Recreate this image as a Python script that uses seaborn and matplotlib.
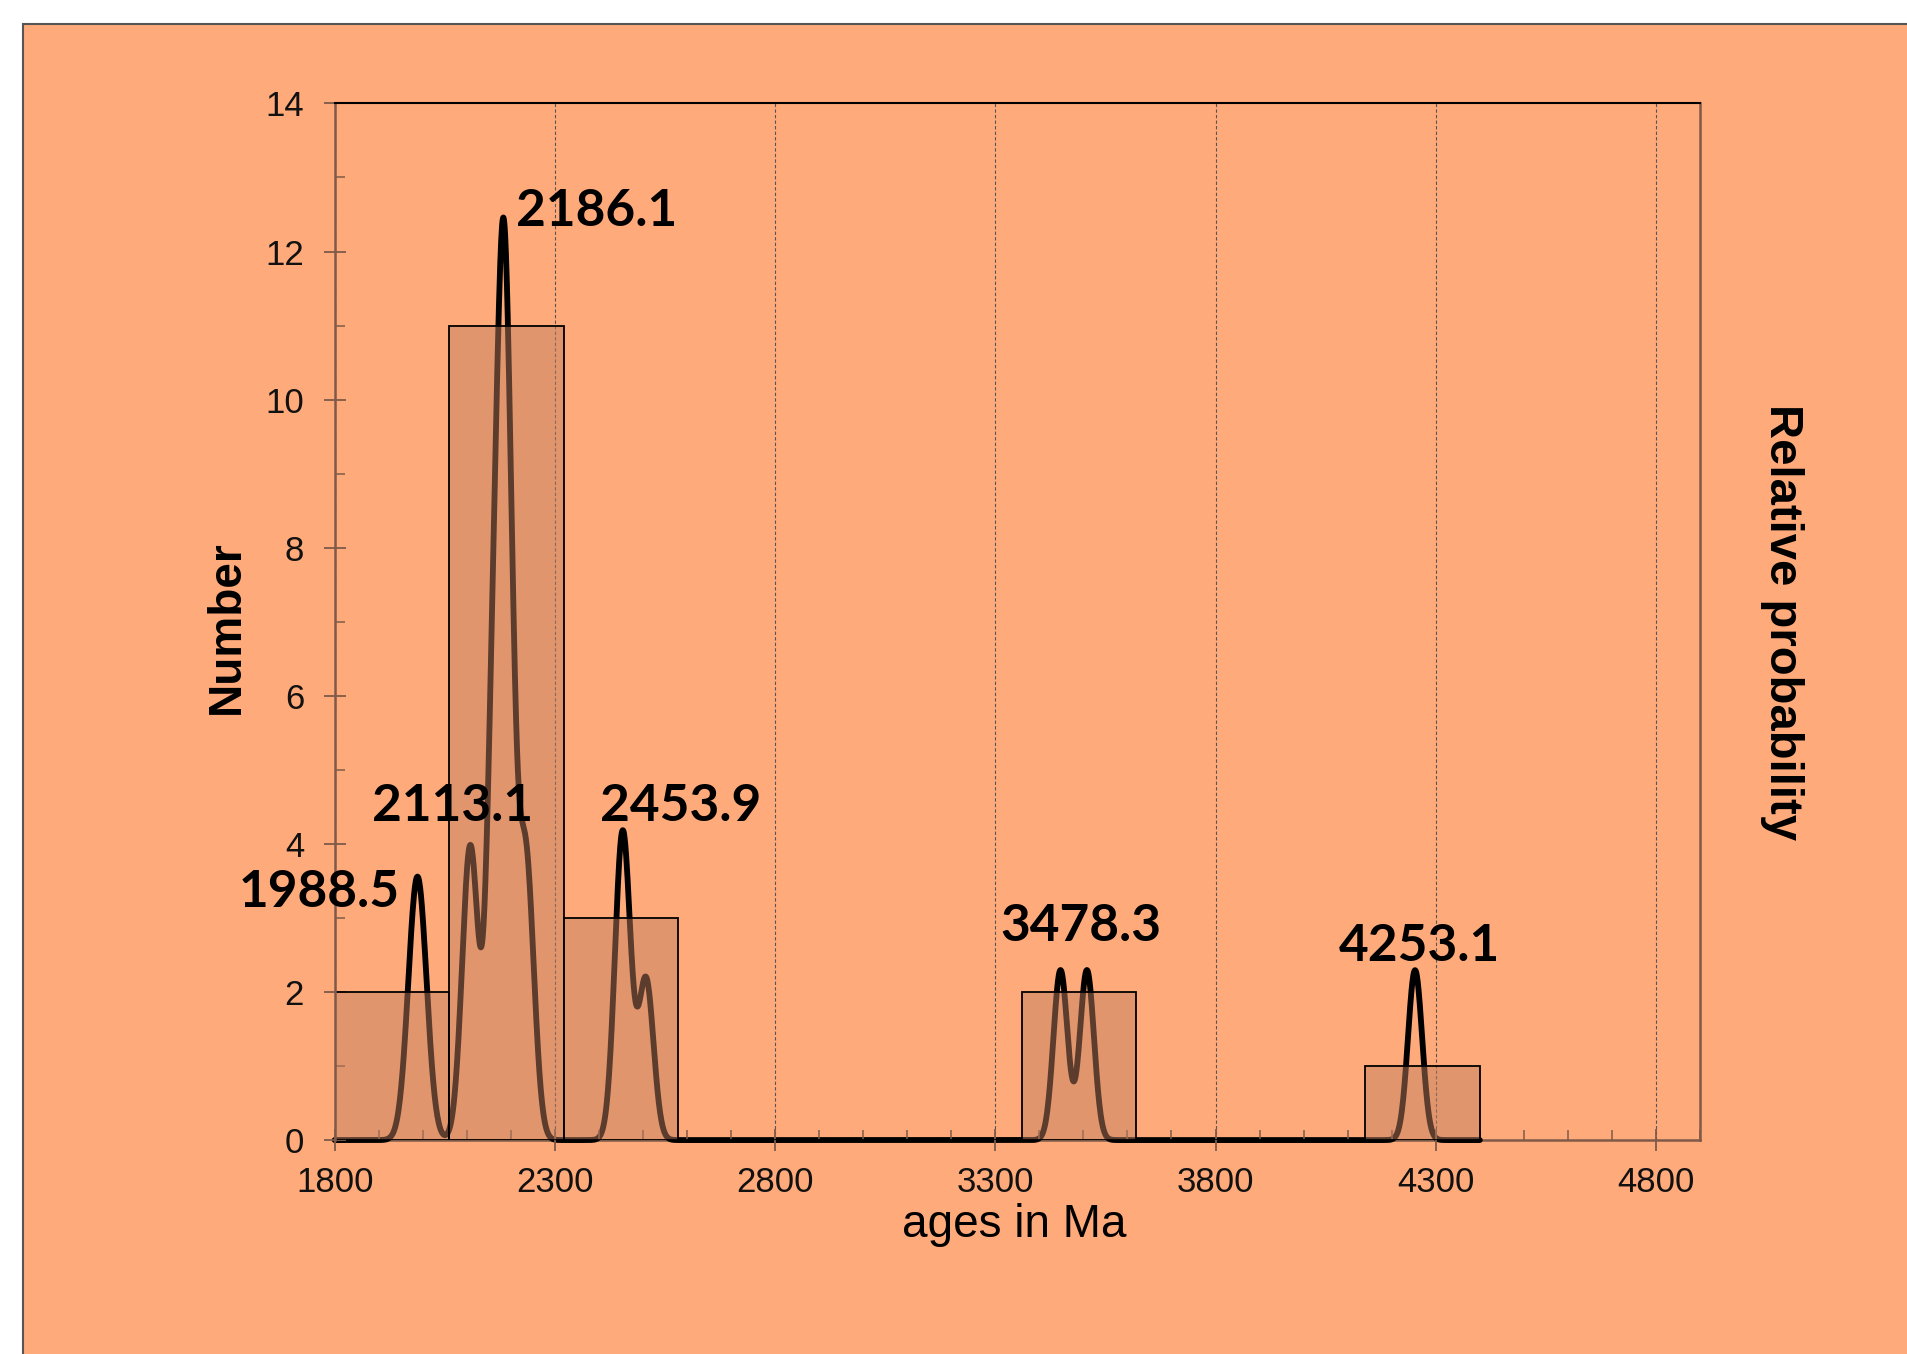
import numpy as np
import matplotlib
matplotlib.use('Agg')
import matplotlib.pyplot as plt
from matplotlib.patches import Rectangle
from matplotlib.ticker import MultipleLocator
import seaborn as sns

# Detrital zircon ages (Ma) and their 1-sigma errors
ages = [1983, 1993, 2104, 2112, 2153, 2165, 2175, 2181, 2186, 2192, 2202,
        2228, 2238, 2452, 2456, 2507, 3448, 3508, 4253]
errors = [20, 20, 18, 18, 13, 13, 13, 13, 13, 13, 13,
          18, 18, 17.5, 17.5, 17, 16, 16, 16]

# Peak ages written on the plot
peak_labels = ['1988.5', '2113.1', '2186.1', '2453.9', '3478.3', '4253.1']

x_ticks = [1800, 2300, 2800, 3300, 3800, 4300, 4800]
y_ticks = [0, 2, 4, 6, 8, 10, 12, 14]

# Style
sns.set_theme(style='white')
plt.rcParams['font.family'] = ['Liberation Sans', 'DejaVu Sans']
plt.rcParams['text.color'] = 'black'
bg = '#FFAA7A'
brown = '#7E5A48'

# Probability density plot = sum of normal curves
grid = np.linspace(1800, 4400, 2601)
mu = np.array(ages)[:, None]
sd = np.array(errors)[:, None]
pdp = (np.exp(-0.5 * ((grid - mu) / sd) ** 2) / (sd * np.sqrt(2 * np.pi))).sum(axis=0)

fig = plt.figure(figsize=(19.08, 13.54), dpi=100, facecolor='white')
fig.patches.append(Rectangle((23 / 1908, -0.01), 1.0, 1.01 - 24 / 1354,
                             transform=fig.transFigure, facecolor=bg,
                             edgecolor='#555555', lw=1.5, zorder=-10))

ax = fig.add_axes([0.1754, 0.158, 0.7156, 0.7656])
ax2 = ax.twinx()
ax2.set_zorder(1)
ax.set_zorder(2)
ax.patch.set_visible(False)
ax2.patch.set_visible(False)

# curve (lower layer)
sns.lineplot(x=grid, y=pdp, ax=ax2, color='black', lw=4.2, clip_on=False, zorder=3)
ax2.set_ylim(0, pdp.max() / 0.89)
ax2.set_yticks([])
ax2.set_ylabel('')
for s in ['top', 'left', 'right']:
    ax2.spines[s].set_visible(False)
ax2.spines['bottom'].set_color(brown)
ax2.spines['bottom'].set_linewidth(1.8)

# histogram (upper layer, semi transparent)
sns.histplot(x=ages, bins=np.arange(1800, 4401, 260), ax=ax, color='#C07F60',
             alpha=0.48, edgecolor='black', linewidth=1.3, zorder=2)

ax.set_xlim(1800, 4900)
ax.set_ylim(0, 14)
ax.set_xticks(x_ticks)
ax.set_yticks(y_ticks)
ax.xaxis.set_minor_locator(MultipleLocator(100))
ax.yaxis.set_minor_locator(MultipleLocator(1))
ax.grid(axis='x', which='major', ls=(0, (3, 2)), lw=0.8, color='#555555')
ax.grid(axis='y', visible=False)
ax.set_axisbelow(True)

ax.tick_params(axis='both', which='major', direction='inout', length=16, width=1.3,
               color=brown, labelcolor='#111111', bottom=True, left=True)
ax.tick_params(axis='both', which='minor', direction='in', length=7, width=1.1,
               color=brown, bottom=True, left=True)
ax.tick_params(axis='x', labelsize=25, pad=11)
ax.tick_params(axis='y', labelsize=25, pad=14)

ax.spines['bottom'].set_visible(False)
ax.spines['top'].set_color('black')
ax.spines['top'].set_linewidth(1.5)
for s in ['left', 'right']:
    ax.spines[s].set_color(brown)
    ax.spines[s].set_linewidth(1.8)

ax.set_ylabel('Number', fontsize=33, fontweight='bold', color='black')
ax.yaxis.set_label_coords(-0.0627, 0.495)
ax.set_xlabel('ages in Ma', fontsize=33, color='black')
ax.xaxis.set_label_coords(0.498, -0.061)
fig.text(0.934, 0.5406, 'Relative probability', rotation=270, ha='center',
         va='center', fontsize=34, fontweight='bold', color='black')

# peak labels
label_pos = [(1764, 3.34), (2068, 4.50), (2394, 12.54),
             (2585, 4.50), (3495, 2.89), (4263, 2.61)]
for txt, (lx, ly) in zip(peak_labels, label_pos):
    ax.text(lx, ly, txt, ha='center', va='center', fontsize=37, color='black',
            fontweight='bold', family=['Lato', 'DejaVu Sans'], zorder=5)

fig.savefig('out.png', dpi=100, facecolor=fig.get_facecolor())
